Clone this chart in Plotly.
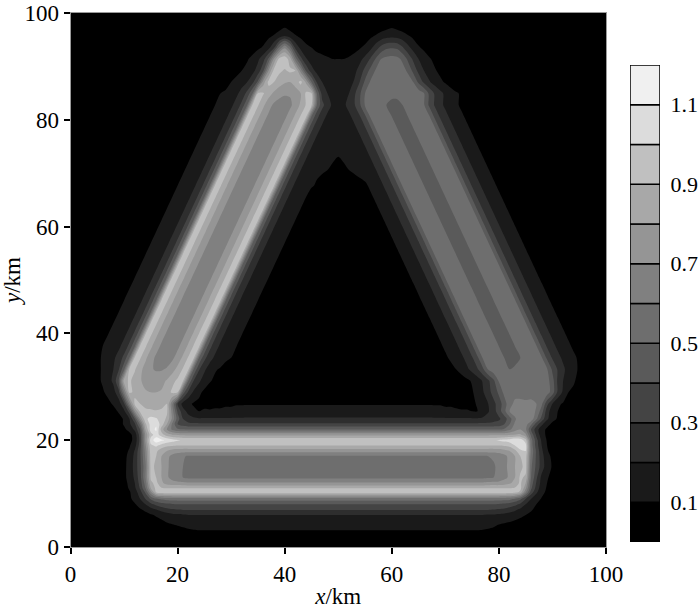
import numpy as np
import plotly.graph_objects as go

# Field values in hundredths: y -> list of (first x, values every 1 km)
x_km = list(range(0, 101))
field_rows = {
 0: [], 100: [],
 2: [(16, [2,2,3,3,4,4,5,5]+[6]*53+[5,5,4,4,3,3,2,2])],
 4: [(12, [1,2,3,4,5,6,8,9,10,11,12,13]+[13]*54+[12,11,9,8,7,6,5,3,2,1])],
 6: [(10, [1,2,3,5,7,9,11,13,15,17,18,19,20]+[20]*55+[19,19,18,17,16,14,12,10,8,6,4,2,1])],
 7: [(10, [2,3,6,9,12,16,20,24,27,29,30,31]+[31]*57+[30,29,28,25,22,18,14,11,8,5,3,1])],
 8: [(9, [2,3,5,9,14,20,27,33,36,38,39]+[40]*60+[39,38,36,33,28,20,14,10,7,4,2])],
 9: [(9, [3,5,8,13,20,30,41,48,52,54]+[55]*62+[54,53,48,42,30,20,14,9,6,3])],
 10.3: [(9, [3,6,9,15,26,42,68,92,96]+[97]*64+[96,95,88,62,36,22,13,8,4])],
 11: [(9, [4,6,11,18,31,50,80,93,91]+[90]*64+[90,91,93,72,42,26,14,9,5])],
 12: [(9, [4,7,12,20,34,55,88,93,82,76,74,73,72]+[71]*56+[72,73,73,75,78,84,92,80,46,29,16,10,6])],
 13: [(9, [5,8,13,22,36,60,92,90,80,72,66,62,60]+[58]*56+[59,60,62,67,72,80,92,88,50,32,17,11,7])],
 15: [(8, [3,5,8,13,24,37,58,93,88,80,72,66,62,60,57,56]+[55]*54+[57,59,62,67,73,80,87,94,52,37,25,14,9,5,2])],
 17: [(9, [5,8,12,23,38,62,94,90,80,73,67,63,61]+[59]*56+[60,61,63,67,73,80,90,95,56,38,24,13,8,4])],
 18: [(9, [4,7,11,21,38,64,95,92,84,80,76,75]+[74]*59+[75,77,80,87,98,100,58,38,22,11,6,3])],
 19: [(9, [3,5,9,16,35,68,98,102,96,92,91]+[90]*61+[91,93,100,106,104,56,35,20,10,5])],
 20: [(10, [4,7,13,33,72,105,116,112,108,104,101,99]+[98]*57+[99,101,103,105,108,106,95,55,34,18,9,5])],
 21: [(10, [4,7,14,35,72,96,105,95,85,81,79]+[78]*59+[78,78,79,81,82,72,48,28,14,8,5])],
 22: [(10, [8,13,22,40,80,105,112,85,70,58,52,51]+[50]*58+[50,52,58,66,70,62,40,24,14,8,5])],
 23: [(9, [6,11,18,28,52,88,104,108,95,80,58,40,35,33]+[32]*56+[33,34,40,50,62,68,64,52,35,22,13,8,5,3])],
 24: [(8, [4,7,11,20,40,72,98,103,101,96,88,68,45,30,24,22]+[21]*53+[22,24,26,28,35,46,58,68,70,66,52,36,22,13,9,6,4,2])],
 25.4: [(6, [2,4,7,11,18,34,70,92,93,92,91,92,92,65,38,24,17,12,10,11,11,12,12,13,13,14,14]+[15]*35+[14,14,13,13,12,11,11,10,10,13,19,26,35,47,60,66,67,68,67,58,45,24,15,10,7,4,2])],
 26.81: [(5, [2,4,8,11,15,28,62,92,90,86,85,84,86,90,62,30,16,12,9,8,8,7,7,7,8,8]+[9]*39+[8,8,7,7,7,8,11,15,20,27,35,45,57,62,63,62,62,60,52,33,20,12,9,5,2])],
 28.96: [(3, [2,3,6,9,12,16,27,60,92,88,83,81,80,80,81,85,92,90,45,28,18,12,8,5,3,3]+[4]*44+[5,7,9,14,19,26,34,42,53,60,57,56,56,57,58,60,55,45,28,18,10,8,4,2])],
 31.12: [(3, [2,4,8,11,16,22,40,85,92,86,81,77,75,75,77,81,87,92,92,50,30,22,15,11,8,5,3,2]),
         (71, [1,3,5,8,11,15,21,28,38,51,56,55,53,52,52,53,55,57,54,44,28,20,14,11,7,4,2])],
 33.27: [(2, [2,3,5,8,11,15,20,29,48,92,91,83,76,71,69,69,71,76,83,91,92,50,31,22,15,11,9,6,4,2]),
         (68, [1,3,5,8,10,14,18,23,29,38,51,56,54,52,50,51,51,50,52,54,56,51,38,29,22,16,12,9,6,3,1])],
 35.42: [(2, [2,4,6,8,11,15,18,24,33,50,92,91,82,74,68,65,65,68,74,82,91,92,50,33,24,18,15,12,10,6,4,2]),
         (67, [1,3,6,9,11,14,18,23,29,38,51,56,54,52,50,48,48,50,52,54,56,51,38,29,23,18,14,11,9,6,3,1])],
 37.57: [(3, [2,4,6,10,12,15,18,24,33,50,92,91,82,74,68,65,65,68,74,82,91,92,50,33,24,18,15,12,10,6,4,2]),
         (66, [1,3,6,9,11,14,18,23,29,38,51,56,54,52,50,48,48,50,52,54,56,51,38,29,23,18,14,11,9,6,3,1])],
 39.73: [(4, [2,4,6,10,12,15,18,24,33,50,92,91,82,74,68,65,65,68,74,82,91,92,50,33,24,18,15,12,10,6,4,2]),
         (65, [1,3,6,9,11,14,18,23,29,38,51,56,54,52,50,48,48,50,52,54,56,51,38,29,23,18,14,11,9,6,3,1])],
 41.88: [(5, [2,4,6,10,12,15,18,24,33,50,92,91,82,74,68,65,65,68,74,82,91,92,50,33,24,18,15,12,10,6,4,2]),
         (64, [1,3,6,9,11,14,18,23,29,38,51,56,54,52,50,48,48,50,52,54,56,51,38,29,23,18,14,11,9,6,3,1])],
 44.03: [(6, [2,4,6,10,12,15,18,24,33,50,92,91,82,74,68,65,65,68,74,82,91,92,50,33,24,18,15,12,10,6,4,2]),
         (63, [1,3,6,9,11,14,18,23,29,38,51,56,54,52,50,48,48,50,52,54,56,51,38,29,23,18,14,11,9,6,3,1])],
 46.18: [(7, [2,4,6,10,12,15,18,24,33,50,92,91,82,74,68,65,65,68,74,82,91,92,50,33,24,18,15,12,10,6,4,2]),
         (62, [1,3,6,9,11,14,18,23,29,38,51,56,54,52,50,48,48,50,52,54,56,51,38,29,23,18,14,11,9,6,3,1])],
 48.34: [(8, [2,4,6,10,12,15,18,24,33,50,92,91,82,74,68,65,65,68,74,82,91,92,50,33,24,18,15,12,10,6,4,2]),
         (61, [1,3,6,9,11,14,18,23,29,38,51,56,54,52,50,48,48,50,52,54,56,51,38,29,23,18,14,11,9,6,3,1])],
 50.49: [(9, [2,4,6,10,12,15,18,24,33,50,92,91,82,74,68,65,65,68,74,82,91,92,50,33,24,18,15,12,10,6,4,2]),
         (60, [1,3,6,9,11,14,18,23,29,38,51,56,54,52,50,48,48,50,52,54,56,51,38,29,23,18,14,11,9,6,3,1])],
 52.64: [(10, [2,4,6,10,12,15,18,24,33,50,92,91,82,74,68,65,65,68,74,82,91,92,50,33,24,18,15,12,10,6,4,2]),
         (59, [1,3,6,9,11,14,18,23,29,38,51,56,54,52,50,48,48,50,52,54,56,51,38,29,23,18,14,11,9,6,3,1])],
 54.79: [(11, [2,4,6,10,12,15,18,24,33,50,92,91,82,74,68,65,65,68,74,82,91,92,50,33,24,18,15,12,10,6,4,2]),
         (58, [1,3,6,9,11,14,18,23,29,38,51,56,54,52,50,48,48,50,52,54,56,51,38,29,23,18,14,11,9,6,3,1])],
 56.95: [(12, [2,4,6,10,12,15,18,24,33,50,92,91,82,74,68,65,65,68,74,82,91,92,50,33,24,18,15,12,10,6,4,2]),
         (57, [1,3,6,9,11,14,18,23,29,38,51,56,54,52,50,48,48,50,52,54,56,51,38,29,23,18,14,11,9,6,3,1])],
 59.10: [(13, [2,4,6,10,12,15,18,24,33,50,92,91,82,74,68,65,65,68,74,82,91,92,50,33,24,18,15,12,10,6,4,2]),
         (56, [1,3,6,9,11,14,18,23,29,38,51,56,54,52,50,48,48,50,52,54,56,51,38,29,23,18,14,11,9,6,3,1])],
 61.25: [(14, [2,4,6,10,12,15,18,24,33,50,92,91,82,74,68,65,65,68,74,82,91,92,50,33,24,18,15,12,10,6,4,2]),
         (55, [1,3,6,9,11,14,18,23,29,38,51,56,54,52,50,48,48,50,52,54,56,51,38,29,23,18,14,11,9,6,3,1])],
 63.40: [(15, [2,4,6,10,12,15,18,24,33,50,92,91,82,74,68,65,65,68,74,82,91,92,50,33,24,18,15,12,10,6,4,2]),
         (54, [1,3,6,9,11,14,18,23,29,38,51,56,54,52,50,48,48,50,52,54,56,51,38,29,23,18,14,11,9,6,3,1])],
 65.55: [(16, [2,4,6,10,12,15,18,24,33,50,92,91,82,74,68,65,65,68,74,82,91,92,50,33,24,18,15,12,10,6,4,3]),
         (53, [3,4,6,9,11,14,18,23,29,38,51,56,54,52,50,48,48,50,52,54,56,51,38,29,23,18,14,11,9,6,3,1])],
 67.71: [(17, [2,4,6,10,12,15,18,24,33,50,92,91,82,74,68,65,65,68,74,82,91,92,50,33,24,18,15,12,11,9,7,6,5]),
         (52, [6,7,8,9,11,14,18,23,29,38,51,56,54,52,50,48,48,50,52,54,56,51,38,29,23,18,14,11,9,6,3,1])],
 69.86: [(18, [2,4,6,10,12,15,18,24,33,50,92,91,82,74,68,65,65,68,74,82,91,92,50,33,24,18,15,12,11,10,9,8,8]),
         (51, [8,9,10,11,12,14,18,23,29,38,51,56,54,52,50,48,48,50,52,54,56,51,38,29,23,18,14,11,9,6,3,1])],
 72.01: [(19, [2,4,6,10,12,15,18,24,33,50,92,91,82,74,68,65,65,68,74,82,91,92,50,33,24,18,15,14,13,12,10,9,10,12,13,14,14,18,23,29,38,51,56,54,52,50,48,48,50,52,54,56,51,38,29,23,18,14,11,9,6,3,1])],
 74.16: [(20, [2,4,6,10,12,15,18,24,33,50,92,91,82,74,68,65,65,68,74,82,91,92,50,33,24,18,15,14,13,12,11,12,13,14,14,18,23,29,38,51,56,54,52,50,48,48,50,52,54,56,51,38,29,23,18,14,11,9,6,3,1])],
 76.32: [(21, [2,4,6,10,12,15,18,24,33,50,92,91,82,74,68,65,65,68,74,82,91,92,50,33,24,18,15,14,13,12,13,14,14,18,23,29,38,51,56,54,52,50,48,48,50,52,54,56,51,38,29,23,18,14,11,9,6,3,1])],
 78.47: [(22, [2,4,6,10,12,15,18,24,33,50,92,91,82,74,68,65,65,68,74,82,91,92,50,33,24,18,15,14,13,14,15,18,23,29,38,51,56,54,52,50,48,48,50,52,54,56,51,38,29,23,18,14,11,9,6,3,1])],
 80.62: [(23, [2,4,6,10,12,15,18,24,33,50,92,91,82,74,68,65,65,68,74,82,91,92,50,33,24,18,15,14,15,18,23,29,38,51,56,54,52,50,48,48,50,52,54,56,51,38,29,23,18,14,11,9,6,3,1])],
 82.77: [(24, [2,4,6,10,12,15,18,24,33,50,92,91,82,74,68,66,66,68,74,82,91,92,50,33,24,18,15,18,23,29,38,51,56,54,52,50,49,49,50,52,54,56,51,38,29,23,18,14,11,9,6,3,1])],
 84.93: [(25, [2,4,6,10,12,15,18,24,33,50,92,91,84,78,73,71,71,74,80,92,92,50,26,20,16,14,16,20,28,38,50,55,54,53,52,51,51,51,52,54,56,51,38,29,23,18,14,11,9,6,3,1])],
 87.08: [(26, [1,2,4,6,10,13,16,20,27,42,75,93,90,85,81,80,85,93,78,50,29,20,16,14,13,14,16,21,30,42,51,55,56,55,55,55,55,56,50,38,28,21,16,12,9,6,4,2])],
 89.23: [(28, [1,2,4,7,10,13,17,24,38,70,93,92,89,92,90,65,38,24,17,14,12,11,11,11,13,17,24,33,43,51,55,56,56,56,54,48,37,27,20,15,11,8,5,3,1])],
 91.38: [(30, [1,3,6,9,13,18,26,42,72,94,97,85,55,33,21,15,13,12,11,10,10,10,11,13,17,23,31,41,50,53,54,53,48,38,28,20,15,11,8,5,3,1])],
 93.54: [(33, [2,5,8,11,17,28,52,68,52,27,17,12,10,8,7,6,5,4,5,6,7,9,12,17,25,33,38,39,38,31,23,16,11,8,5,2])],
 95.69: [(35, [2,5,8,11,15,20,15,11,8,6,3,2]), (53, [1,3,5,8,11,14,16,17,16,14,11,8,5,2])],
 97.84: [(38, [2,4,6,4,2]), (58, [3,5,7,5,3])],
}

level_bands = [0.1, 0.2, 0.3, 0.4, 0.5, 0.6, 0.7, 0.8, 0.9, 1.0, 1.1, 1.2]
band_colors = ["#000000", "#1a1a1a", "#2e2e2e", "#444444", "#5a5a5a", "#6e6e6e",
               "#808080", "#959595", "#a8a8a8", "#c0c0c0", "#dcdcdc", "#f0f0f0"]
axis_ticks = [0, 20, 40, 60, 80, 100]
bar_ticks = [0.1, 0.3, 0.5, 0.7, 0.9, 1.1]

y_km = sorted(field_rows)
z = np.zeros((len(y_km), len(x_km)))
for j, yv in enumerate(y_km):
    for start, vals in field_rows[yv]:
        z[j, start:start + len(vals)] = vals[:len(x_km) - start]
z = z / 100

n = len(band_colors)
scale = []
for i, c in enumerate(band_colors):
    scale += [[i / n, c], [(i + 1) / n, c]]

FONT = "Liberation Serif"
SIZE = 23
fig = go.Figure()
fig.add_trace(go.Contour(
    x=x_km, y=y_km, z=z, zmin=0, zmax=1.2, colorscale=scale, showscale=False,
    autocontour=False,
    contours=dict(start=0.1, end=1.1, size=0.1, coloring="fill", showlines=False),
    line=dict(width=0, smoothing=0.8), hoverinfo="skip",
))
fig.add_trace(go.Bar(
    x=[1] * n, y=[0.1] * n, base=[round(v - 0.1, 1) for v in level_bands],
    marker=dict(color=band_colors, line=dict(color="black", width=1.5)),
    width=1, xaxis="x2", yaxis="y2", showlegend=False, hoverinfo="skip",
))
axis_common = dict(range=[0, 100], tickvals=axis_ticks, ticks="outside", ticklen=6, tickwidth=1.5,
                   tickcolor="black", showgrid=False, zeroline=False, mirror=True, automargin=False,
                   linecolor="#9a9a9a", linewidth=1, tickfont=dict(family=FONT, size=SIZE, color="black"))
fig.update_layout(
    width=700, height=610, autosize=False, margin=dict(l=0, r=0, t=0, b=0),
    paper_bgcolor="white", plot_bgcolor="black", showlegend=False, barmode="overlay",
    xaxis=dict(domain=[70.5 / 700, 606 / 700], anchor="y",
               title=dict(text="<i>x</i>/km", font=dict(family=FONT, size=SIZE, color="black"), standoff=2),
               **axis_common),
    yaxis=dict(domain=[63 / 610, 597 / 610], anchor="x",
               title=dict(text="<i>y</i>/km", font=dict(family=FONT, size=SIZE, color="black"), standoff=2),
               **axis_common),
    xaxis2=dict(domain=[630 / 700, 660 / 700], anchor="y2", range=[0.5, 1.5], visible=False),
    yaxis2=dict(domain=[68 / 610, 545 / 610], anchor="x2", side="right", range=[0, 1.2], automargin=False,
                tickvals=bar_ticks, ticktext=[f"{v:.1f}" for v in bar_ticks], ticks="outside", ticklen=5,
                tickcolor="rgba(0,0,0,0)", showline=False,
                showgrid=False, zeroline=False, tickfont=dict(family=FONT, size=22, color="black")),
)
fig.write_html("out.html", post_script="document.body.style.margin='0';", config={"displayModeBar": False})
